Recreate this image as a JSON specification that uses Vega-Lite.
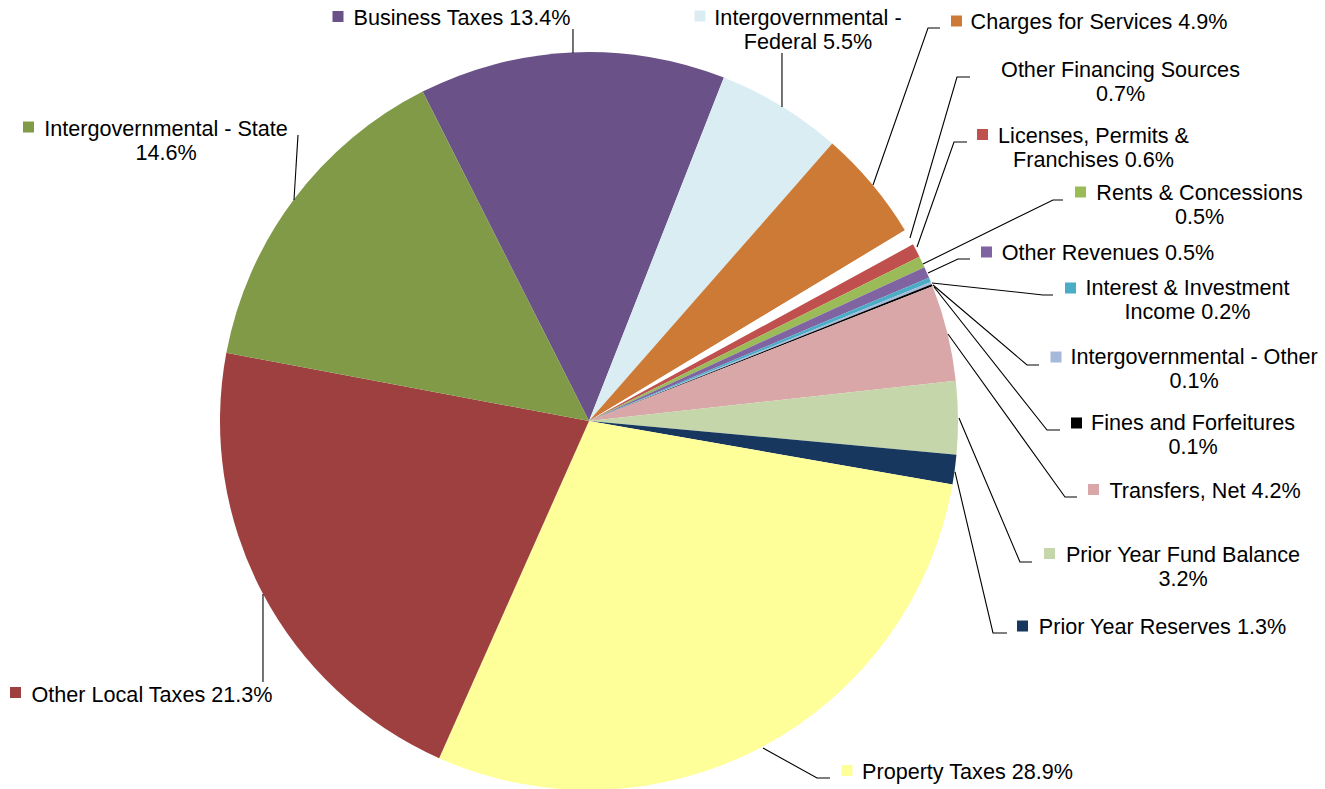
{
  "$schema": "https://vega.github.io/schema/vega-lite/v6.json",
  "width": 1325,
  "height": 789,
  "padding": 0,
  "autosize": {"type": "none"},
  "background": "white",
  "config": {"view": {"stroke": null}},
  "datasets": {
    "slices": [
      {"name": "Business Taxes", "pct": 13.4, "i": 1},
      {"name": "Intergovernmental - Federal", "pct": 5.5, "i": 2},
      {"name": "Charges for Services", "pct": 4.9, "i": 3},
      {"name": "Other Financing Sources", "pct": 0.7, "i": 4},
      {"name": "Licenses, Permits & Franchises", "pct": 0.6, "i": 5},
      {"name": "Rents & Concessions", "pct": 0.5, "i": 6},
      {"name": "Other Revenues", "pct": 0.5, "i": 7},
      {"name": "Interest & Investment Income", "pct": 0.2, "i": 8},
      {"name": "Intergovernmental - Other", "pct": 0.1, "i": 9},
      {"name": "Fines and Forfeitures", "pct": 0.1, "i": 10},
      {"name": "Transfers, Net", "pct": 4.2, "i": 11},
      {"name": "Prior Year Fund Balance", "pct": 3.2, "i": 12},
      {"name": "Prior Year Reserves", "pct": 1.3, "i": 13},
      {"name": "Property Taxes", "pct": 28.9, "i": 14},
      {"name": "Other Local Taxes", "pct": 21.3, "i": 15},
      {"name": "Intergovernmental - State", "pct": 14.6, "i": 16}
    ],
    "labels": [
      {"name": "Business Taxes", "label": "Business Taxes 13.4%", "tx": -34.42, "ty": 107.32, "mx": -68.02, "my": 109.62},
      {"name": "Intergovernmental - State", "label": "Intergovernmental - State\n14.6%", "tx": -114.63, "ty": 77.24, "mx": -151.9, "my": 79.67},
      {"name": "Intergovernmental - Federal", "label": "Intergovernmental -\nFederal 5.5%", "tx": 59.35, "ty": 107.32, "mx": 30.08, "my": 109.76},
      {"name": "Charges for Services", "label": "Charges for Services 4.9%", "tx": 138.21, "ty": 106.23, "mx": 99.59, "my": 108.4},
      {"name": "Other Financing Sources", "label": "Other Financing Sources\n0.7%", "tx": 144.04, "ty": 93.22, "mx": 105.96, "my": 95.12},
      {"name": "Licenses, Permits & Franchises", "label": "Licenses, Permits &\nFranchises 0.6%", "tx": 136.72, "ty": 75.34, "mx": 106.64, "my": 77.64},
      {"name": "Rents & Concessions", "label": "Rents & Concessions\n0.5%", "tx": 165.45, "ty": 59.89, "mx": 133.2, "my": 62.06},
      {"name": "Other Revenues", "label": "Other Revenues 0.5%", "tx": 140.65, "ty": 43.63, "mx": 107.72, "my": 45.8},
      {"name": "Interest & Investment Income", "label": "Interest & Investment\nIncome 0.2%", "tx": 162.19, "ty": 34.15, "mx": 130.49, "my": 36.04},
      {"name": "Intergovernmental - Other", "label": "Intergovernmental - Other\n0.1%", "tx": 163.96, "ty": 15.45, "mx": 126.56, "my": 17.34},
      {"name": "Fines and Forfeitures", "label": "Fines and Forfeitures\n0.1%", "tx": 163.69, "ty": -2.44, "mx": 132.11, "my": -0.54},
      {"name": "Transfers, Net", "label": "Transfers, Net 4.2%", "tx": 166.94, "ty": -20.79, "mx": 136.72, "my": -18.56},
      {"name": "Prior Year Fund Balance", "label": "Prior Year Fund Balance\n3.2%", "tx": 160.98, "ty": -38.21, "mx": 124.8, "my": -35.91},
      {"name": "Prior Year Reserves", "label": "Prior Year Reserves 1.3%", "tx": 155.42, "ty": -57.72, "mx": 117.48, "my": -55.56},
      {"name": "Property Taxes", "label": "Property Taxes 28.9%", "tx": 102.57, "ty": -97.02, "mx": 69.92, "my": -94.71},
      {"name": "Other Local Taxes", "label": "Other Local Taxes 21.3%", "tx": -118.43, "ty": -76.07, "mx": -155.42, "my": -73.58}
    ],
    "leaders": [
      {"name": "Business Taxes", "k": 0, "x": -4.34, "y": 106.23},
      {"name": "Business Taxes", "k": 1, "x": -4.34, "y": 99.73},
      {"name": "Intergovernmental - State", "k": 0, "x": -78.86, "y": 77.51},
      {"name": "Intergovernmental - State", "k": 1, "x": -79.95, "y": 59.89},
      {"name": "Intergovernmental - Federal", "k": 0, "x": 52.3, "y": 99.73},
      {"name": "Intergovernmental - Federal", "k": 1, "x": 52.3, "y": 85.09},
      {"name": "Charges for Services", "k": 0, "x": 95.12, "y": 106.5},
      {"name": "Charges for Services", "k": 1, "x": 91.87, "y": 106.5},
      {"name": "Charges for Services", "k": 2, "x": 76.97, "y": 63.96},
      {"name": "Other Financing Sources", "k": 0, "x": 103.25, "y": 93.22},
      {"name": "Other Financing Sources", "k": 1, "x": 99.73, "y": 93.22},
      {"name": "Other Financing Sources", "k": 2, "x": 86.99, "y": 49.59},
      {"name": "Licenses, Permits & Franchises", "k": 0, "x": 102.44, "y": 75.61},
      {"name": "Licenses, Permits & Franchises", "k": 1, "x": 98.92, "y": 75.61},
      {"name": "Licenses, Permits & Franchises", "k": 2, "x": 88.89, "y": 47.15},
      {"name": "Rents & Concessions", "k": 0, "x": 128.46, "y": 59.89},
      {"name": "Rents & Concessions", "k": 1, "x": 125.75, "y": 59.89},
      {"name": "Rents & Concessions", "k": 2, "x": 90.51, "y": 42.55},
      {"name": "Other Revenues", "k": 0, "x": 103.25, "y": 43.9},
      {"name": "Other Revenues", "k": 1, "x": 100.0, "y": 43.9},
      {"name": "Other Revenues", "k": 2, "x": 91.87, "y": 40.11},
      {"name": "Interest & Investment Income", "k": 0, "x": 125.75, "y": 34.15},
      {"name": "Interest & Investment Income", "k": 1, "x": 123.03, "y": 34.15},
      {"name": "Interest & Investment Income", "k": 2, "x": 92.95, "y": 37.4},
      {"name": "Intergovernmental - Other", "k": 0, "x": 121.95, "y": 15.18},
      {"name": "Intergovernmental - Other", "k": 1, "x": 118.7, "y": 15.18},
      {"name": "Intergovernmental - Other", "k": 2, "x": 93.22, "y": 36.86},
      {"name": "Fines and Forfeitures", "k": 0, "x": 127.64, "y": -2.44},
      {"name": "Fines and Forfeitures", "k": 1, "x": 124.12, "y": -2.44},
      {"name": "Fines and Forfeitures", "k": 2, "x": 93.5, "y": 36.31},
      {"name": "Transfers, Net", "k": 0, "x": 132.25, "y": -20.6},
      {"name": "Transfers, Net", "k": 1, "x": 129.0, "y": -20.6},
      {"name": "Transfers, Net", "k": 2, "x": 97.29, "y": 23.58},
      {"name": "Prior Year Fund Balance", "k": 0, "x": 120.05, "y": -38.21},
      {"name": "Prior Year Fund Balance", "k": 1, "x": 116.8, "y": -38.21},
      {"name": "Prior Year Fund Balance", "k": 2, "x": 100.27, "y": 0.81},
      {"name": "Prior Year Reserves", "k": 0, "x": 113.28, "y": -57.45},
      {"name": "Prior Year Reserves", "k": 1, "x": 109.49, "y": -57.45},
      {"name": "Prior Year Reserves", "k": 2, "x": 99.19, "y": -13.82},
      {"name": "Property Taxes", "k": 0, "x": 65.31, "y": -96.75},
      {"name": "Property Taxes", "k": 1, "x": 61.79, "y": -96.75},
      {"name": "Property Taxes", "k": 2, "x": 47.15, "y": -88.62},
      {"name": "Other Local Taxes", "k": 0, "x": -88.35, "y": -70.73},
      {"name": "Other Local Taxes", "k": 1, "x": -88.35, "y": -46.88}
    ]
  },
  "layer": [
    {
      "data": {"name": "slices"},
      "mark": {
        "type": "arc",
        "x": {"expr": "scale('x', 0)"},
        "y": {"expr": "scale('y', 0)"},
        "outerRadius": {"expr": "scale('x', 100) - scale('x', 0)"}
      },
      "encoding": {
        "theta": {"field": "pct", "type": "quantitative", "stack": true, "scale": {"range": [-0.4677, 5.8155]}},
        "order": {"field": "i", "type": "quantitative"},
        "color": {
          "field": "name", "type": "nominal", "legend": null,
          "scale": {
            "domain": ["Business Taxes", "Intergovernmental - Federal", "Charges for Services", "Other Financing Sources", "Licenses, Permits & Franchises", "Rents & Concessions", "Other Revenues", "Interest & Investment Income", "Intergovernmental - Other", "Fines and Forfeitures", "Transfers, Net", "Prior Year Fund Balance", "Prior Year Reserves", "Property Taxes", "Other Local Taxes", "Intergovernmental - State"],
            "range": ["#6a5288", "#daedf3", "#cd7a37", "#ffffff", "#c0504d", "#9bbb59", "#8064a2", "#4bacc6", "#a7b9da", "#000000", "#d9a7a7", "#c4d6aa", "#17375e", "#ffff99", "#9d403f", "#809a48"]
          }
        }
      }
    },
    {
      "data": {"name": "leaders"},
      "mark": {"type": "line", "color": "#000000", "strokeWidth": 1.1},
      "encoding": {
        "x": {"field": "x", "type": "quantitative", "axis": null, "scale": {"domain": [-159.62, 199.46], "nice": false, "zero": false}},
        "y": {"field": "y", "type": "quantitative", "axis": null, "scale": {"domain": [-99.73, 114.09], "nice": false, "zero": false}},
        "detail": {"field": "name", "type": "nominal"},
        "order": {"field": "k", "type": "quantitative"}
      }
    },
    {
      "data": {"name": "labels"},
      "mark": {"type": "point", "shape": "square", "filled": true, "size": 121, "opacity": 1},
      "encoding": {
        "x": {"field": "mx", "type": "quantitative"},
        "y": {"field": "my", "type": "quantitative"},
        "color": {"field": "name", "type": "nominal", "legend": null}
      }
    },
    {
      "data": {"name": "labels"},
      "mark": {"type": "text", "align": "center", "baseline": "alphabetic", "font": "Liberation Sans", "fontSize": 21.6, "lineHeight": 24, "lineBreak": "\n", "color": "#000000"},
      "encoding": {
        "x": {"field": "tx", "type": "quantitative"},
        "y": {"field": "ty", "type": "quantitative"},
        "text": {"field": "label", "type": "nominal"}
      }
    }
  ]
}
